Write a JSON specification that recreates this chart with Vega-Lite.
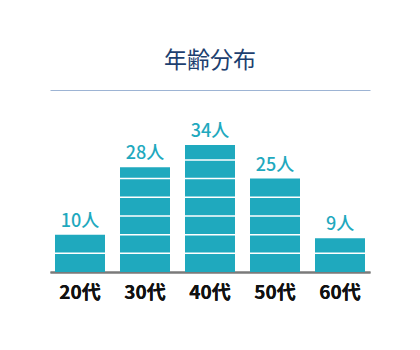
{
  "$schema": "https://vega.github.io/schema/vega-lite/v6.json",
  "width": 320,
  "height": 182,
  "autosize": {"type": "none"},
  "padding": {"left": 50, "top": 90, "right": 50, "bottom": 78},
  "background": "white",
  "config": {"view": {"stroke": null}, "font": "Noto Sans CJK JP"},
  "title": {
    "text": "年齢分布",
    "fontSize": 23,
    "fontWeight": 400,
    "color": "#1d3f6f",
    "font": "Noto Sans CJK JP",
    "anchor": "middle",
    "offset": 17
  },
  "data": {
    "values": [
      {"age": "20代", "count": 10, "label": "10人"},
      {"age": "30代", "count": 28, "label": "28人"},
      {"age": "40代", "count": 34, "label": "34人"},
      {"age": "50代", "count": 25, "label": "25人"},
      {"age": "60代", "count": 9, "label": "9人"}
    ]
  },
  "encoding": {
    "x": {
      "field": "age",
      "type": "nominal",
      "sort": null,
      "scale": {"paddingInner": 0.2308, "paddingOuter": 0.0769},
      "axis": {
        "orient": "bottom",
        "title": null,
        "ticks": false,
        "labelAngle": 0,
        "labelFontSize": 19,
        "labelFontWeight": "bold",
        "labelColor": "#111111",
        "labelFont": "Noto Sans CJK JP",
        "labelPadding": 11,
        "domainColor": "#7a7a7a",
        "domainWidth": 2,
        "grid": false
      }
    },
    "y": {
      "field": "count",
      "type": "quantitative",
      "scale": {"domain": [0, 48.7], "nice": false},
      "axis": null
    }
  },
  "layer": [
    {"mark": {"type": "bar", "color": "#1fa9be"}},
    {
      "data": {
        "values": [
          {"age": "20代", "level": 5},
          {"age": "30代", "level": 5},
          {"age": "30代", "level": 10},
          {"age": "30代", "level": 15},
          {"age": "30代", "level": 20},
          {"age": "30代", "level": 25},
          {"age": "40代", "level": 5},
          {"age": "40代", "level": 10},
          {"age": "40代", "level": 15},
          {"age": "40代", "level": 20},
          {"age": "40代", "level": 25},
          {"age": "40代", "level": 30},
          {"age": "50代", "level": 5},
          {"age": "50代", "level": 10},
          {"age": "50代", "level": 15},
          {"age": "50代", "level": 20},
          {"age": "60代", "level": 5}
        ]
      },
      "mark": {"type": "tick", "color": "white", "thickness": 1.5, "size": 50, "opacity": 1},
      "encoding": {
        "x": {
          "field": "age",
          "type": "nominal",
          "sort": null,
          "axis": {
            "orient": "top",
            "title": null,
            "labels": false,
            "ticks": false,
            "domainColor": "#9db4d4",
            "domainWidth": 1,
            "grid": false
          }
        },
        "y": {"field": "level", "type": "quantitative", "axis": null}
      }
    },
    {
      "mark": {
        "type": "text",
        "dy": -8,
        "baseline": "alphabetic",
        "align": "center",
        "fontSize": 18,
        "fontWeight": 500,
        "color": "#1fa9be",
        "font": "Noto Sans CJK JP"
      },
      "encoding": {"text": {"field": "label"}}
    }
  ]
}
